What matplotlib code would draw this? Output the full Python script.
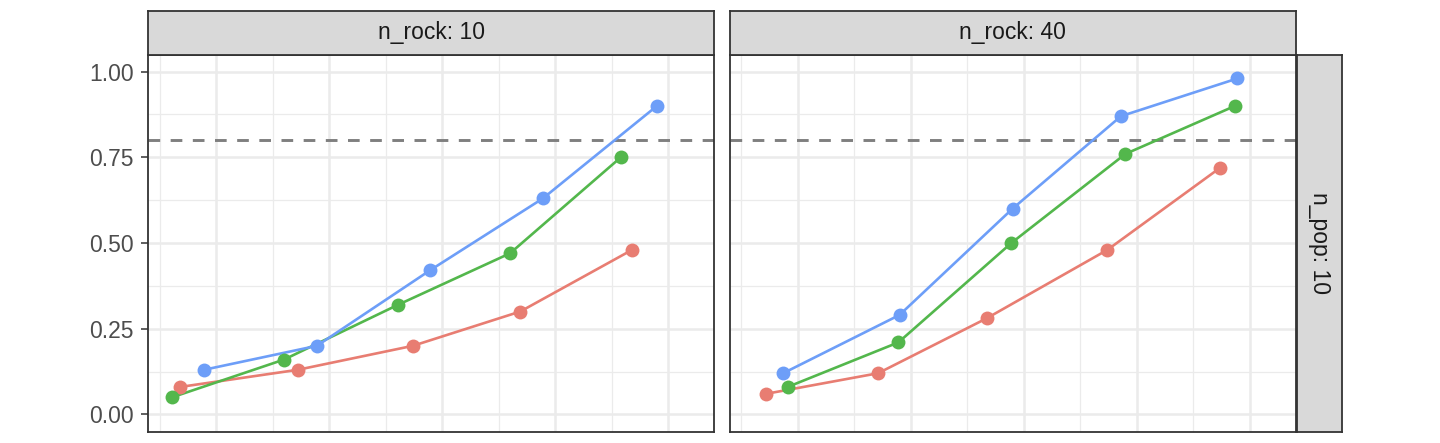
import matplotlib.pyplot as plt
from matplotlib.ticker import MultipleLocator

plt.rcParams["font.family"] = ["Liberation Sans", "DejaVu Sans"]

panel_titles = ["n_rock: 10", "n_rock: 40"]
row_title = "n_pop: 10"
group_colors = ["#E87D72", "#53B74C", "#6D9EF8"]
power_target = 0.8
y_ticks = [0.00, 0.25, 0.50, 0.75, 1.00]
y_tick_labels = ["0.00", "0.25", "0.50", "0.75", "1.00"]

# n_rock: 10 (dodged x positions)
x_r10_red = [0.68, 1.72, 2.74, 3.69, 4.68]
y_r10_red = [0.08, 0.13, 0.20, 0.30, 0.48]
x_r10_green = [0.61, 1.60, 2.61, 3.60, 4.58]
y_r10_green = [0.05, 0.16, 0.32, 0.47, 0.75]
x_r10_blue = [0.89, 1.89, 2.89, 3.89, 4.90]
y_r10_blue = [0.13, 0.20, 0.42, 0.63, 0.90]

# n_rock: 40
x_r40_red = [0.72, 1.71, 2.67, 3.74, 4.74]
y_r40_red = [0.06, 0.12, 0.28, 0.48, 0.72]
x_r40_green = [0.91, 1.89, 2.89, 3.90, 4.87]
y_r40_green = [0.08, 0.21, 0.50, 0.76, 0.90]
x_r40_blue = [0.87, 1.90, 2.90, 3.86, 4.89]
y_r40_blue = [0.12, 0.29, 0.60, 0.87, 0.98]

panel_data = [
    [(x_r10_red, y_r10_red), (x_r10_green, y_r10_green), (x_r10_blue, y_r10_blue)],
    [(x_r40_red, y_r40_red), (x_r40_green, y_r40_green), (x_r40_blue, y_r40_blue)],
]

W, H = 1440, 443
fig = plt.figure(figsize=(W / 100, H / 100), dpi=100)

border = "#333333"
grid = "#EBEBEB"
strip_fill = "#D9D9D9"
fs = 16.5


def px_box(x0, y0, x1, y1):
    # pixel box (top-left origin) -> figure fraction rect
    return [x0 / W, 1 - y1 / H, (x1 - x0) / W, (y1 - y0) / H]


panel_left = [148, 729.5]
panel_w = 566
top, bottom = 54.5, 431.5

for i, (px0, series) in enumerate(zip(panel_left, panel_data)):
    ax = fig.add_axes(px_box(px0, top, px0 + panel_w, bottom))
    ax.set_xlim(0.395, 5.405)
    ax.set_ylim(-0.05, 1.05)
    ax.xaxis.set_major_locator(MultipleLocator(1))
    ax.xaxis.set_minor_locator(MultipleLocator(0.5))
    ax.set_yticks(y_ticks)
    ax.yaxis.set_minor_locator(MultipleLocator(0.125))
    ax.grid(which="major", color=grid, lw=1.8, zorder=0)
    ax.grid(which="minor", color=grid, lw=0.9, zorder=0)
    ax.set_axisbelow(True)
    ax.axhline(power_target, color="#7F7F7F", lw=2.1, dashes=(4, 3.6), zorder=1)

    for (xs, ys), c in zip(series, group_colors):
        ax.plot(xs, ys, color=c, lw=1.9, zorder=2, solid_capstyle="butt")
    for (xs, ys), c in zip(series, group_colors):
        ax.plot(xs, ys, "o", color=c, ms=10, mec="none", zorder=3)

    ax.tick_params(axis="x", which="both", bottom=False, labelbottom=False)
    ax.tick_params(axis="y", which="minor", left=False)
    if i == 0:
        ax.set_yticklabels(y_tick_labels)
        ax.tick_params(axis="y", which="major", length=5.3, width=1.1,
                       color=border, labelsize=fs, labelcolor="#4D4D4D", pad=4.8)
    else:
        ax.tick_params(axis="y", which="both", left=False, labelleft=False)
    for sp in ax.spines.values():
        sp.set_color(border)
        sp.set_linewidth(1.3)

    # column strip
    sax = fig.add_axes(px_box(px0, 10.7, px0 + panel_w, top))
    sax.set_facecolor(strip_fill)
    sax.set_xticks([])
    sax.set_yticks([])
    for sp in sax.spines.values():
        sp.set_color(border)
        sp.set_linewidth(1.3)
    sax.text(0.5, 0.5, panel_titles[i], ha="center", va="center",
             fontsize=fs, color="#1A1A1A", transform=sax.transAxes)

# row strip on the right
rax = fig.add_axes(px_box(1297, top, 1341.5, bottom))
rax.set_facecolor(strip_fill)
rax.set_xticks([])
rax.set_yticks([])
for sp in rax.spines.values():
    sp.set_color(border)
    sp.set_linewidth(1.3)
rax.text(0.5, 0.5, row_title, ha="center", va="center", rotation=-90,
         fontsize=fs, color="#1A1A1A", transform=rax.transAxes)

fig.savefig("out.png", dpi=100)
